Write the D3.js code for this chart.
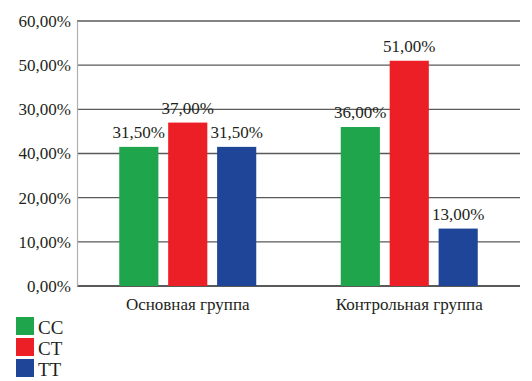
<!DOCTYPE html>
<html><head><meta charset="utf-8">
<script src="https://cdn.jsdelivr.net/npm/d3@7"></script>
<style>
svg text, svg g text { font-family: "Liberation Serif", "Times New Roman", serif !important; }
</style>
</head>
<body style="margin:0;background:#fff">
<svg id="chart" width="532" height="381" style="display:block" font-family="Liberation Serif"></svg>
<script>
const categories = ["Основная группа", "Контрольная группа"];
const seriesNames = ["CC", "CT", "TT"];
const seriesColors = ["#1fa64c", "#ec1f27", "#1f4599"];
const valuesCC = [31.5, 36.0];
const valuesCT = [37.0, 51.0];
const valuesTT = [31.5, 13.0];
const tickValues = [0, 10, 20, 30, 40, 50, 60];
const tickLabels = ["0,00%", "10,00%", "20,00%", "40,00%", "30,00%", "50,00%", "60,00%"];
const barLabels = [["31,50%", "36,00%"], ["37,00%", "51,00%"], ["31,50%", "13,00%"]];

const FONT = "Liberation Serif";
const TXT = "#231f20";
const series = [valuesCC, valuesCT, valuesTT];
const W = 532, H = 381;
const margin = {left: 77, right: 12, top: 21, bottom: 95};
const svg = d3.select("#chart");

const x0 = d3.scaleBand().domain(categories).range([margin.left, W - margin.right]);
const x1 = d3.scaleBand().domain(seriesNames).range([0, 137]).paddingInner(0.2);
const y = d3.scaleLinear().domain([0, 60]).range([H - margin.bottom, margin.top]);

// gridlines
svg.append("g").selectAll("line").data(tickValues).join("line")
  .attr("x1", margin.left).attr("x2", W - margin.right)
  .attr("y1", d => y(d)).attr("y2", d => y(d))
  .attr("stroke", d => d === 0 ? "#222" : "#5a5a5a").attr("stroke-width", 1.4);

// left axis
const yAxis = d3.axisLeft(y).tickValues(tickValues)
  .tickFormat((d, i) => tickLabels[i]).tickSize(0).tickPadding(6);
const ga = svg.append("g").attr("transform", `translate(${margin.left},0)`).call(yAxis);
ga.attr("font-family", FONT).attr("font-size", 17);
ga.select(".domain").attr("stroke", "#b0b0b0").attr("stroke-width", 1.2);
ga.selectAll("text").attr("fill", TXT).attr("font-family", FONT).style("font-family", FONT);

// bars
const groupW = x1.range()[1];
const bx = (i, si) => x0(categories[i]) + x0.bandwidth() / 2 - groupW / 2 + x1(seriesNames[si]);
series.forEach((vals, si) => {
  const g = svg.append("g");
  g.selectAll("rect").data(vals).join("rect")
    .attr("x", (d, i) => bx(i, si))
    .attr("width", x1.bandwidth())
    .attr("y", d => y(d))
    .attr("height", d => y(0) - y(d))
    .attr("fill", seriesColors[si]);
  g.selectAll("text").data(vals).join("text")
    .attr("x", (d, i) => bx(i, si) + x1.bandwidth() / 2)
    .attr("y", d => y(d) - 9)
    .attr("text-anchor", "middle")
    .attr("fill", TXT)
    .attr("font-family", FONT).attr("font-size", 17).style("font-family", FONT)
    .text((d, i) => barLabels[si][i]);
});

// category labels
const xAxis = d3.axisBottom(x0).tickSize(0).tickPadding(12);
const gx = svg.append("g").attr("transform", `translate(0,${y(0)})`).call(xAxis);
gx.attr("font-family", FONT).attr("font-size", 17);
gx.select(".domain").remove();
gx.selectAll("text").attr("fill", TXT).attr("font-family", FONT).style("font-family", FONT);

// legend
const leg = svg.append("g").attr("transform", "translate(16,317)");
seriesNames.forEach((n, i) => {
  const r = leg.append("g").attr("transform", `translate(0,${i * 21})`);
  r.append("rect").attr("width", 18).attr("height", 18).attr("fill", seriesColors[i]);
  r.append("text").attr("x", 22).attr("y", 17)
    .attr("font-family", FONT).attr("font-size", 19).style("font-family", FONT)
    .attr("fill", TXT).text(n);
});
</script></body></html>
